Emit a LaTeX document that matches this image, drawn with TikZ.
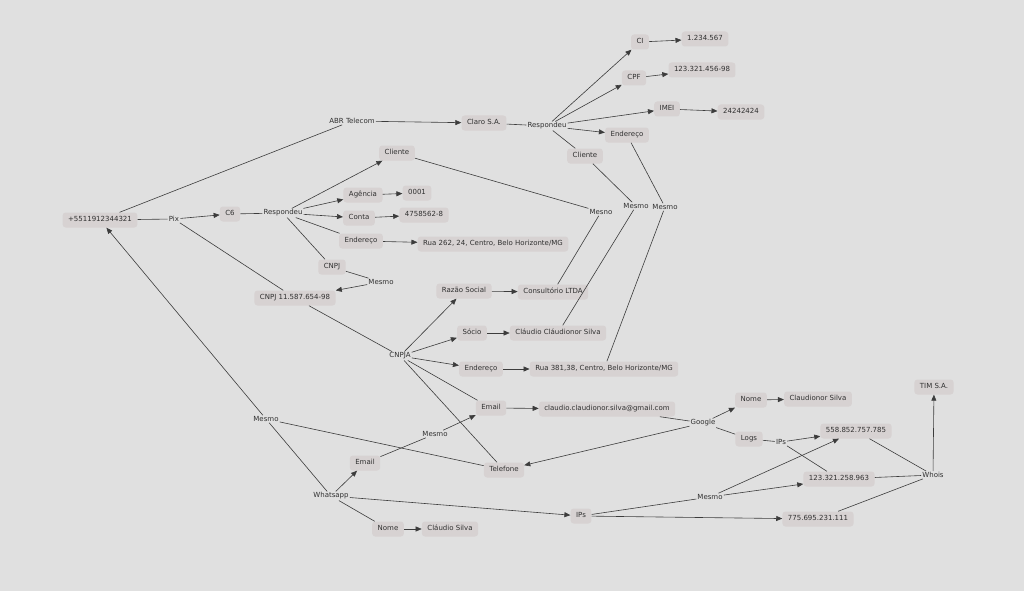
\documentclass[tikz,border=0pt]{standalone}
\usepackage{fontspec}
\setmainfont{DejaVu Sans}
\usetikzlibrary{arrows.meta}
\definecolor{bg}{HTML}{E0E0E0}
\definecolor{boxfill}{HTML}{D7D2D2}
\definecolor{ink}{HTML}{303030}
\definecolor{edgecol}{HTML}{3C3C3C}
\begin{document}
\begin{tikzpicture}[x=1pt,y=-1pt,
  every node/.style={font=\fontsize{7}{8}\selectfont, text=ink},
  box/.style={fill=boxfill, rounded corners=3pt, inner xsep=5.5pt, inner ysep=4pt, text height=5.4pt, text depth=1.6pt},
  lab/.style={inner sep=1pt},
  ln/.style={draw=edgecol, line width=0.6pt},
  ar/.style={ln, -{Triangle[length=6pt,width=5pt]}},
]
\fill[bg] (0,0) rectangle (1024,591);
\useasboundingbox (0,0) rectangle (1024,591);

\node[box] (phone) at (100,220) {+5511912344321};
\node[lab] (pix) at (174,219) {Pix};
\node[box] (c6) at (230,214) {C6};
\node[lab] (resp1) at (283,213) {Respondeu};
\node[box] (cli1) at (397,153) {Cliente};
\node[box] (ag) at (363,195) {Agência};
\node[box] (ag0) at (417,193) {0001};
\node[box] (conta) at (359,218) {Conta};
\node[box] (conta0) at (424,215) {4758562-8};
\node[box] (end1) at (361,241) {Endereço};
\node[box] (rua1) at (493,244) {Rua 262, 24, Centro, Belo Horizonte/MG};
\node[box] (cnpj) at (332,267) {CNPJ};
\node[lab] (mes1) at (381,282) {Mesmo};
\node[box] (cnpjn) at (295,298) {CNPJ 11.587.654-98};
\node[lab] (abr) at (352,121) {ABR Telecom};
\node[box] (claro) at (484,123) {Claro S.A.};
\node[lab] (resp2) at (547,126) {Respondeu};
\node[box] (ci) at (640,42) {CI};
\node[box] (ci0) at (705,39) {1.234.567};
\node[box] (cpf) at (634,78) {CPF};
\node[box] (cpf0) at (702,70) {123.321.456-98};
\node[box] (imei) at (667,109) {IMEI};
\node[box] (imei0) at (741,112) {24242424};
\node[box] (end2) at (627,135) {Endereço};
\node[box] (cli2) at (585,156) {Cliente};
\node[lab] (mesno) at (601,212) {Mesno};
\node[lab] (mes2) at (636,206) {Mesmo};
\node[lab] (mes3) at (665,207) {Mesmo};
\node[box] (razao) at (464,291) {Razão Social};
\node[box] (consult) at (553,292) {Consultório LTDA};
\node[box] (socio) at (472,333) {Sócio};
\node[box] (ccs) at (558,333) {Cláudio Cláudionor Silva};
\node[lab] (cnpja) at (400,356) {CNPJA};
\node[box] (end3) at (481,369) {Endereço};
\node[box] (rua2) at (604,369) {Rua 381,38, Centro, Belo Horizonte/MG};
\node[box] (email1) at (491,408) {Email};
\node[box] (gmail) at (607,409) {claudio.claudionor.silva@gmail.com};
\node[lab] (mes4) at (266,419) {Mesmo};
\node[lab] (mes5) at (435,434) {Mesmo};
\node[box] (email2) at (365,463) {Email};
\node[box] (tel) at (504,470) {Telefone};
\node[lab] (whats) at (331,496) {Whatsapp};
\node[box] (ips1) at (581,516) {IPs};
\node[box] (nome1) at (388,529) {Nome};
\node[box] (cs) at (450,529) {Cláudio Silva};
\node[lab] (google) at (703,423) {Google};
\node[box] (nome2) at (751,400) {Nome};
\node[box] (cns) at (818,399) {Claudionor Silva};
\node[box] (logs) at (749,439) {Logs};
\node[lab] (ips2) at (781,442) {IPs};
\node[box] (ip1) at (856,431) {558.852.757.785};
\node[box] (ip2) at (839,479) {123.321.258.963};
\node[lab] (whois) at (933,475) {Whois};
\node[box] (tim) at (934,387) {TIM S.A.};
\node[lab] (mes6) at (710,497) {Mesmo};
\node[box] (ip3) at (818,519) {775.695.231.111};

\draw[ln] (phone) -- (pix);
\draw[ar] (pix) -- (c6);
\draw[ln] (pix) -- (cnpjn);
\draw[ln] (phone) -- (abr);
\draw[ar] (abr) -- (claro);
\draw[ln] (c6) -- (resp1);
\draw[ar] (resp1) -- (cli1);
\draw[ar] (resp1) -- (ag);
\draw[ar] (resp1) -- (conta);
\draw[ln] (resp1) -- (end1);
\draw[ln] (resp1) -- (cnpj);
\draw[ar] (ag) -- (ag0);
\draw[ar] (conta) -- (conta0);
\draw[ar] (end1) -- (rua1);
\draw[ln] (cnpj) -- (mes1);
\draw[ar] (mes1) -- (cnpjn);
\draw[ln] (cnpjn) -- (cnpja);
\draw[ar] (cnpja) -- (razao);
\draw[ar] (cnpja) -- (socio);
\draw[ar] (cnpja) -- (end3);
\draw[ln] (cnpja) -- (email1);
\draw[ln] (cnpja) -- (tel);
\draw[ar] (razao) -- (consult);
\draw[ar] (socio) -- (ccs);
\draw[ar] (end3) -- (rua2);
\draw[ar] (email1) -- (gmail);
\draw[ln] (claro) -- (resp2);
\draw[ar] (resp2) -- (ci);
\draw[ar] (resp2) -- (cpf);
\draw[ar] (resp2) -- (imei);
\draw[ar] (resp2) -- (end2);
\draw[ln] (resp2) -- (cli2);
\draw[ar] (ci) -- (ci0);
\draw[ar] (cpf) -- (cpf0);
\draw[ar] (imei) -- (imei0);
\draw[ln] (cli1) -- (mesno) -- (consult);
\draw[ln] (cli2) -- (mes2) -- (ccs);
\draw[ln] (end2) -- (mes3) -- (rua2);
\draw[ln] (gmail) -- (google);
\draw[ar] (google) -- (nome2);
\draw[ar] (google) -- (tel);
\draw[ln] (google) -- (logs);
\draw[ar] (nome2) -- (cns);
\draw[ln] (logs) -- (ips2);
\draw[ar] (ips2) -- (ip1);
\draw[ln] (ips2) -- (ip2);
\draw[ln] (ip1) -- (whois);
\draw[ln] (ip2) -- (whois);
\draw[ln] (ip3) -- (whois);
\draw[ar] (whois) -- (tim);
\draw[ln] (whats) -- (mes4);
\draw[ar] (mes4) -- (phone);
\draw[ln] (mes4) -- (tel);
\draw[ar] (whats) -- (email2);
\draw[ln] (email2) -- (mes5);
\draw[ar] (mes5) -- (email1);
\draw[ln] (whats) -- (nome1);
\draw[ar] (whats) -- (ips1);
\draw[ar] (nome1) -- (cs);
\draw[ln] (ips1) -- (mes6);
\draw[ar] (mes6) -- (ip1);
\draw[ar] (mes6) -- (ip2);
\draw[ar] (ips1) -- (ip3);
\end{tikzpicture}
\end{document}
